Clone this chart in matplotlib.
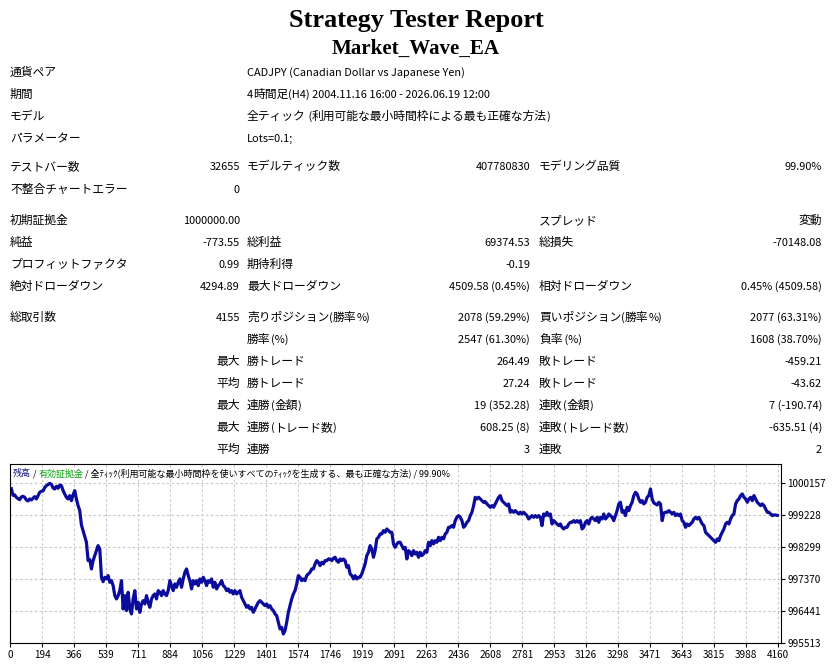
import numpy as np
import matplotlib.pyplot as plt

plt.rcParams['font.family'] = ['Noto Sans CJK JP', 'DejaVu Sans']

title = 'Strategy Tester Report'
ea_name = 'Market_Wave_EA'

# header block (label, value)
info_labels = ['通貨ペア', '期間', 'モデル', 'パラメーター']
info_values = ['CADJPY (Canadian Dollar vs Japanese Yen)',
               '4時間足(H4) 2004.11.16 16:00 - 2026.06.19 12:00',
               '全ティック (利用可能な最小時間枠による最も正確な方法)',
               'Lots=0.1;']

# results table, 6 cells per row
stat_rows = [
    ('テストバー数', '32655', 'モデルティック数', '407780830', 'モデリング品質', '99.90%'),
    ('不整合チャートエラー', '0', '', '', '', ''),
    ('初期証拠金', '1000000.00', '', '', 'スプレッド', '変動'),
    ('純益', '-773.55', '総利益', '69374.53', '総損失', '-70148.08'),
    ('プロフィットファクタ', '0.99', '期待利得', '-0.19', '', ''),
    ('絶対ドローダウン', '4294.89', '最大ドローダウン', '4509.58 (0.45%)', '相対ドローダウン', '0.45% (4509.58)'),
    ('総取引数', '4155', '売りポジション(勝率%)', '2078 (59.29%)', '買いポジション(勝率%)', '2077 (63.31%)'),
    ('', '', '勝率(%)', '2547 (61.30%)', '負率 (%)', '1608 (38.70%)'),
    ('', '最大', '勝トレード', '264.49', '敗トレード', '-459.21'),
    ('', '平均', '勝トレード', '27.24', '敗トレード', '-43.62'),
    ('', '最大', '連勝(金額)', '19 (352.28)', '連敗(金額)', '7 (-190.74)'),
    ('', '最大', '連勝(トレード数)', '608.25 (8)', '連敗(トレード数)', '-635.51 (4)'),
    ('', '平均', '連勝', '3', '連敗', '2'),
]

total_trades = 4155

# balance, evenly spaced over the trades
balance = [
    1000000, 999809, 999819, 999751, 999712, 999683, 999761, 999780, 999751, 999674,
    999645, 999703, 999674, 999722, 999770, 999703, 999800, 999896, 999925, 999935,
    1000032, 1000090, 1000119, 1000157, 1000128, 1000022, 999993, 1000070, 1000012, 1000109,
    1000090, 999945, 999848, 999751, 999703, 999800, 999654, 999819, 999945, 999703,
    999509, 999364, 998948, 998784, 998619, 998445, 997913, 997942, 997671, 997913,
    998058, 998203, 998348, 998252, 997429, 997303, 997429, 997381, 997478, 997284,
    997332, 997187, 996897, 996800, 996897, 997042, 997332, 996510, 996897, 996462,
    996994, 996510, 996365, 996800, 997042, 996510, 996704, 996413, 996655, 996752,
    996655, 996897, 996704, 996558, 996800, 996897, 996945, 996800, 997042, 996994,
    996897, 997042, 996945, 996897, 997042, 997332, 997187, 997042, 997236, 997139,
    997284, 997381, 997139, 997381, 997574, 997671, 997478, 997332, 997091, 997332,
    997236, 997332, 997187, 997381, 997284, 997429, 997332, 997187, 997332,
    997284, 997381, 997139, 997284, 997091, 997187, 997236, 997332, 997187, 997139,
    997042, 997091, 996994, 997042, 996945, 997042, 996945, 996994, 997042, 996849,
    996752, 996655, 996558, 996607, 996510, 996558, 996413, 996510, 996607, 996704,
    996752, 996704, 996655, 996607, 996655, 996558, 996607, 996510, 996462, 996365,
    996317, 996123, 995930, 995978, 995784, 995881, 996123, 996413, 996607, 996800,
    996945, 997042, 997236, 997478, 997429, 997332, 997381, 997332, 997478, 997526,
    997574, 997671, 997671, 997816, 997913, 997865, 997768, 997865, 997816, 997913,
    997913, 997961, 997961, 997913, 997981, 998010, 997913, 997865, 997961, 997913,
    997961, 997913, 997719, 997768, 997526, 997478, 997381, 997478, 997381, 997429,
    997429, 997526, 997671, 997816, 998058, 998155, 998348, 998252, 998010, 998203,
    998542, 998590, 998687, 998687, 998784, 998735, 998832, 998784, 998735, 998735,
    998397, 998300, 998397, 998445, 998445,
    998348, 998252, 998300, 997961, 998203, 998155, 998058, 998203, 998106, 998155,
    998010, 998155, 998058, 998106, 998203, 998155, 998445, 998348, 998493, 998397,
    998493, 998445, 998590, 998493, 998590, 998542, 998687, 998735, 998880, 998880,
    998929, 998880, 999074, 999171, 999219, 999171, 999074, 998880, 998929, 999026,
    999074, 999219, 999316, 999509, 999751, 999703, 999751, 999703, 999654, 999606,
    999625, 999558, 999509, 999461, 999509, 999461, 999558, 999654, 999751, 999800,
    999654, 999606, 999558, 999509, 999558, 999316, 999364, 999316, 999364, 999316,
    999267, 999316, 999267, 999316, 999267, 999219, 999122, 999171, 999219, 999171,
    999219, 999171, 999219, 999171, 998929, 999267, 999219, 999316, 999219, 999267,
    998977, 999074, 999026, 998977, 998929, 998977, 998880, 998832, 998880, 998880,
    998977, 999026, 999026, 999074, 999026, 999074, 999026, 999074, 998832, 998880,
    999026, 999074, 998977, 999122, 999171, 999122, 999074, 999171, 999026, 999171,
    999122, 999267, 999122, 999171, 999267, 999219, 999171, 999074, 999219, 999364,
    999558, 999606, 999316, 999364, 999219, 999461, 999364, 999509, 999606, 999800,
    999896, 999848, 999703, 999606, 999654, 999558, 999606, 999751, 999800, 999993,
    999703, 999587, 999558, 999529, 999606, 999558, 999074, 999296, 999316, 999316,
    999364, 999316, 999267, 999316, 999219, 999267, 999219, 999267, 999074, 999026,
    998880, 998977, 998929, 998977, 999026, 999122, 999171, 999122, 999171, 999074,
    998977, 998929, 998735, 998687, 998639, 998590, 998542, 998493, 998445, 998542,
    998493, 998639, 998735, 998832, 998977, 999026, 998977, 999122, 999219, 999267,
    999558, 999654, 999703, 999800, 999848, 999751, 999703, 999606, 999703, 999751,
    999654, 999800, 999703, 999606, 999558, 999509, 999558, 999509, 999412, 999316,
    999316, 999267, 999219, 999238, 999238, 999226,
]

x_labels = ['0', '194', '366', '539', '711', '884', '1056', '1229', '1401', '1574',
            '1746', '1919', '2091', '2263', '2436', '2608', '2781', '2953', '3126',
            '3298', '3471', '3643', '3815', '3988', '4160']
y_ticks = [995513, 996441, 997370, 998299, 999228, 1000157]

W, H = 832, 664
fig = plt.figure(figsize=(W / 100, H / 100), dpi=100)
renderer = fig.canvas.get_renderer()

# page layer in pixel coordinates for the text part of the report
page = fig.add_axes([0, 0, 1, 1])
page.set_xlim(0, W)
page.set_ylim(H, 0)
page.axis('off')

page.text(416, 27, title, ha='center', va='baseline', family='Liberation Serif',
          weight='bold', fontsize=18.9)
page.text(416, 54, ea_name, ha='center', va='baseline', family='Liberation Serif',
          weight='bold', fontsize=15.1)

cjk_fs, lat_fs = 8.5, 7.9


def split_runs(s):
    runs = []
    for ch in s:
        wide = ord(ch) > 0x2E80
        if runs and runs[-1][1] == wide:
            runs[-1][0] += ch
        else:
            runs.append([ch, wide])
    return runs


# mixed japanese / latin cell: japanese glyphs are drawn a bit larger
def cell_text(cx, y, s, ha='left'):
    texts = [page.text(0, y, seg, fontsize=cjk_fs if wide else lat_fs, va='baseline')
             for seg, wide in split_runs(s)]
    widths = [t.get_window_extent(renderer).width for t in texts]
    pos = cx if ha == 'left' else cx - sum(widths)
    for t, w in zip(texts, widths):
        t.set_x(pos)
        pos += w


info_y = [72, 94, 116, 138]
for y, lab, val in zip(info_y, info_labels, info_values):
    cell_text(10, y + 4, lab)
    cell_text(247, y + 4, val)

stat_y = [166, 189, 220, 242, 264, 286, 317, 339, 361, 383, 405, 427, 449]
cols = [(10, 'left'), (240, 'right'), (247, 'left'), (530, 'right'), (539, 'left'), (822, 'right')]
for y, row in zip(stat_y, stat_rows):
    for (cx, align), cell in zip(cols, row):
        if cell:
            cell_text(cx, y + 4, cell, align)

# balance chart
left, right, top, bottom = 10.3, 781.0, 463.5, 643.3
ax = fig.add_axes([left / W, 1 - bottom / H, (right - left) / W, (bottom - top) / H])
x = np.linspace(0, total_trades, len(balance))
ax.plot(x, balance, color='#0c0c9c', lw=2.3)

x0, x1 = -5.6, 4175
ax.set_xlim(x0, x1)
ax.set_ylim(995513, 1000732)
step = (x1 - x0) * 32 / (right - left)
ax.set_xticks(x0 + step * np.arange(len(x_labels)), x_labels)
ax.set_yticks(y_ticks, [str(v) for v in y_ticks])
ax.yaxis.tick_right()
ax.tick_params(length=3, width=0.8, labelsize=7.2, pad=1.5)
ax.grid(True, color='#c8c8c8', ls=(0, (2.2, 2.2)), lw=0.8)
ax.set_axisbelow(True)
for sp in ax.spines.values():
    sp.set_linewidth(0.8)

parts = [('残高', '#1a1a8c'), (' / ', 'black'), ('有効証拠金', '#10a010'),
         (' / 全ﾃｨｯｸ(利用可能な最小時間枠を使いすべてのﾃｨｯｸを生成する、最も正確な方法) / 99.90%', 'black')]
t = ax.text(0.003, 0.928, parts[0][0], transform=ax.transAxes, color=parts[0][1],
            fontsize=6.5, va='baseline')
for s, c in parts[1:]:
    t = ax.annotate(s, xy=(1, 0), xycoords=t, va='bottom', ha='left', color=c, fontsize=6.5)

fig.savefig('out.png', dpi=100)
